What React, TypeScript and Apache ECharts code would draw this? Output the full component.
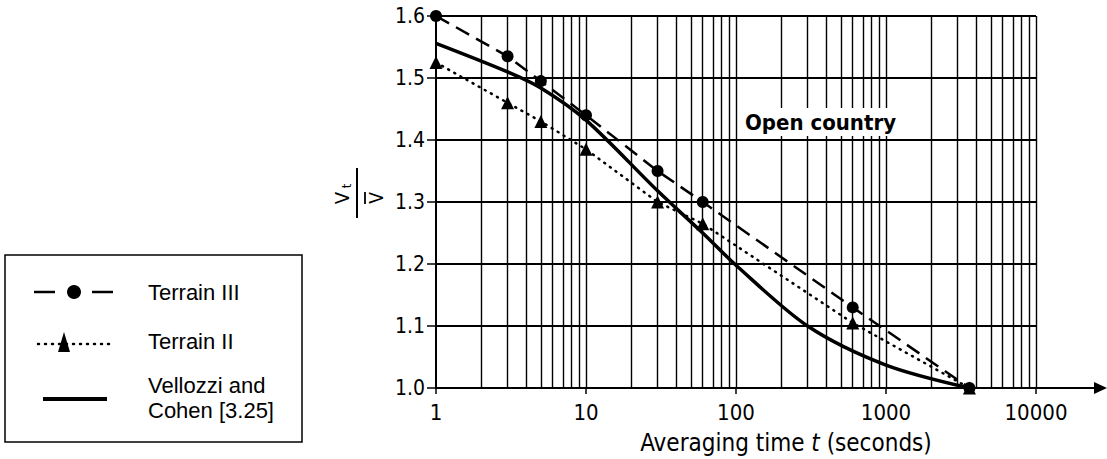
import React, { useEffect, useRef } from "react";
import * as echarts from "echarts";

// ---- data ----
const terrain3Time = [1, 3, 5, 10, 30, 60, 600, 3600];
const terrain3Ratio = [1.6, 1.535, 1.495, 1.44, 1.35, 1.3, 1.13, 1.0];

const terrain2Time = [1, 3, 5, 10, 30, 60, 600, 3600];
const terrain2Ratio = [1.525, 1.46, 1.43, 1.385, 1.3, 1.265, 1.105, 1.0];

const vellozziTime = [1, 3, 5, 10, 30, 60, 100, 300, 1000, 3600];
const vellozziRatio = [1.556, 1.51, 1.484, 1.432, 1.318, 1.25, 1.198, 1.1, 1.037, 1.0];

// vertical grid lines of the log paper
const verticalGridValues = [
  2, 3, 4, 5, 6, 7, 8, 9, 10,
  20, 30, 40, 50, 60, 70, 80, 90, 100,
  200, 300, 400, 500, 600, 700, 800, 900, 1000,
  2000, 3000, 4000, 5000, 6000, 7000, 8000, 9000, 10000,
];

const seriesNames = ["Terrain III", "Terrain II", "Vellozzi and\nCohen [3.25]"];
const xAxisTitle = "Averaging time {i|t} (seconds)";
const annotation = "Open country";

const FONT = "'DejaVu Sans Condensed', 'DejaVu Sans', sans-serif";
const LEGEND_FONT = "'Liberation Sans', Arial, sans-serif";

const zip = (xs: number[], ys: number[]) => xs.map((x, i) => [x, ys[i]]);

export default function App() {
  const ref = useRef<HTMLDivElement>(null);

  useEffect(() => {
    if (!ref.current) return;
    const chart = echarts.init(ref.current, undefined, { renderer: "svg" });

    const option: any = {
      animation: false,
      backgroundColor: "#fff",
      grid: { left: 436, right: 71, top: 16, bottom: 71 },
      xAxis: {
        type: "log",
        logBase: 10,
        min: 1,
        max: 10000,
        axisLine: { show: true, lineStyle: { color: "#000", width: 2 } },
        axisTick: { show: true, length: 6, lineStyle: { color: "#000", width: 1.5 } },
        axisLabel: {
          color: "#000",
          fontFamily: FONT,
          fontSize: 22,
          margin: 13,
          formatter: (v: number) => String(Math.round(v)),
        },
        splitLine: { show: false },
      },
      yAxis: {
        type: "value",
        min: 1.0,
        max: 1.6,
        interval: 0.1,
        axisLine: { show: true, lineStyle: { color: "#000", width: 2 } },
        axisTick: { show: true, length: 9, lineStyle: { color: "#000", width: 1.5 } },
        axisLabel: {
          color: "#000",
          fontFamily: FONT,
          fontSize: 21,
          margin: 11,
          formatter: (v: number) => v.toFixed(1),
        },
        splitLine: { show: true, lineStyle: { color: "#000", width: 2 } },
      },
      series: [
        {
          name: "grid",
          type: "line",
          data: [],
          z: 1,
          silent: true,
          markLine: {
            silent: true,
            symbol: ["none", "none"],
            label: { show: false },
            lineStyle: { color: "#000", width: 1.4, type: "solid" },
            emphasis: { disabled: true },
            data: verticalGridValues.map((v) => ({ xAxis: v })),
          },
        },
        {
          name: seriesNames[0],
          type: "line",
          data: zip(terrain3Time, terrain3Ratio),
          z: 5,
          symbol: "circle",
          symbolSize: 12,
          itemStyle: { color: "#000" },
          lineStyle: { color: "#000", width: 2.5, type: [15, 8] },
        },
        {
          name: seriesNames[1],
          type: "line",
          data: zip(terrain2Time, terrain2Ratio),
          z: 5,
          symbol: "triangle",
          symbolSize: 13,
          itemStyle: { color: "#000" },
          lineStyle: { color: "#000", width: 2.5, type: [1, 6], cap: "round" },
        },
        {
          name: seriesNames[2],
          type: "line",
          data: zip(vellozziTime, vellozziRatio),
          z: 4,
          smooth: 0.3,
          symbol: "none",
          lineStyle: { color: "#000", width: 3.5 },
        },
      ],
      graphic: [
        // x-axis extension with arrow
        {
          type: "line",
          shape: { x1: 1035, y1: 388, x2: 1097, y2: 388 },
          style: { stroke: "#000", lineWidth: 2 },
        },
        {
          type: "polygon",
          shape: { points: [[1094, 382], [1107, 388], [1094, 394]] },
          style: { fill: "#000" },
        },
        // annotation
        {
          type: "text",
          x: 743,
          y: 122,
          z: 100,
          style: {
            text: annotation,
            fontFamily: FONT,
            fontSize: 22,
            fontWeight: "bold",
            fill: "#000",
            align: "left",
            verticalAlign: "middle",
            backgroundColor: "#fff",
            padding: [3, 2, 3, 2],
          },
        },
        // x axis title
        {
          type: "text",
          x: 786,
          y: 443,
          style: {
            text: xAxisTitle,
            fontFamily: FONT,
            fontSize: 24,
            fill: "#000",
            align: "center",
            verticalAlign: "middle",
            rich: {
              i: { fontFamily: FONT, fontSize: 24, fontStyle: "italic", fill: "#000" },
            },
          },
        },
        // y axis title V_t / V-bar, rotated
        {
          type: "group",
          x: 357,
          y: 193,
          rotation: Math.PI / 2,
          children: [
            {
              type: "line",
              shape: { x1: -25, y1: 0, x2: 25, y2: 0 },
              style: { stroke: "#000", lineWidth: 2 },
            },
            {
              type: "text",
              x: -5,
              y: -15,
              style: {
                text: "V",
                fontFamily: FONT,
                fontSize: 20,
                fill: "#000",
                align: "center",
                verticalAlign: "middle",
              },
            },
            {
              type: "text",
              x: 7,
              y: -11,
              style: {
                text: "t",
                fontFamily: FONT,
                fontSize: 13,
                fill: "#000",
                align: "center",
                verticalAlign: "middle",
              },
            },
            {
              type: "line",
              shape: { x1: -11, y1: 8, x2: 1, y2: 8 },
              style: { stroke: "#000", lineWidth: 1.8 },
            },
            {
              type: "text",
              x: -5,
              y: 19,
              style: {
                text: "V",
                fontFamily: FONT,
                fontSize: 19,
                fill: "#000",
                align: "center",
                verticalAlign: "middle",
              },
            },
          ],
        },
        // legend box
        {
          type: "rect",
          shape: { x: 5, y: 255, width: 297, height: 187 },
          style: { fill: "none", stroke: "#000", lineWidth: 1.5 },
        },
        {
          type: "line",
          shape: { x1: 34, y1: 292, x2: 55, y2: 292 },
          style: { stroke: "#000", lineWidth: 2.5 },
        },
        {
          type: "line",
          shape: { x1: 92, y1: 292, x2: 113, y2: 292 },
          style: { stroke: "#000", lineWidth: 2.5 },
        },
        {
          type: "circle",
          shape: { cx: 74, cy: 292, r: 7 },
          style: { fill: "#000" },
        },
        {
          type: "line",
          shape: { x1: 38, y1: 344, x2: 111, y2: 344 },
          style: { stroke: "#000", lineWidth: 2.5, lineDash: [1, 6], lineCap: "round" },
        },
        {
          type: "polygon",
          shape: { points: [[64, 332], [70, 352], [58, 352]] },
          style: { fill: "#000" },
        },
        {
          type: "line",
          shape: { x1: 43, y1: 399, x2: 107, y2: 399 },
          style: { stroke: "#000", lineWidth: 4 },
        },
        {
          type: "text",
          x: 148,
          y: 292,
          style: {
            text: seriesNames[0],
            fontFamily: LEGEND_FONT,
            fontSize: 22,
            fill: "#000",
            align: "left",
            verticalAlign: "middle",
          },
        },
        {
          type: "text",
          x: 148,
          y: 341,
          style: {
            text: seriesNames[1],
            fontFamily: LEGEND_FONT,
            fontSize: 22,
            fill: "#000",
            align: "left",
            verticalAlign: "middle",
          },
        },
        {
          type: "text",
          x: 148,
          y: 398,
          style: {
            text: seriesNames[2],
            fontFamily: LEGEND_FONT,
            fontSize: 22,
            lineHeight: 25,
            fill: "#000",
            align: "left",
            verticalAlign: "middle",
          },
        },
      ],
    };

    chart.setOption(option);
    return () => chart.dispose();
  }, []);

  return (
    <div
      ref={ref}
      style={{ position: "absolute", left: 0, top: 0, width: 1107, height: 459, background: "#fff" }}
    />
  );
}
